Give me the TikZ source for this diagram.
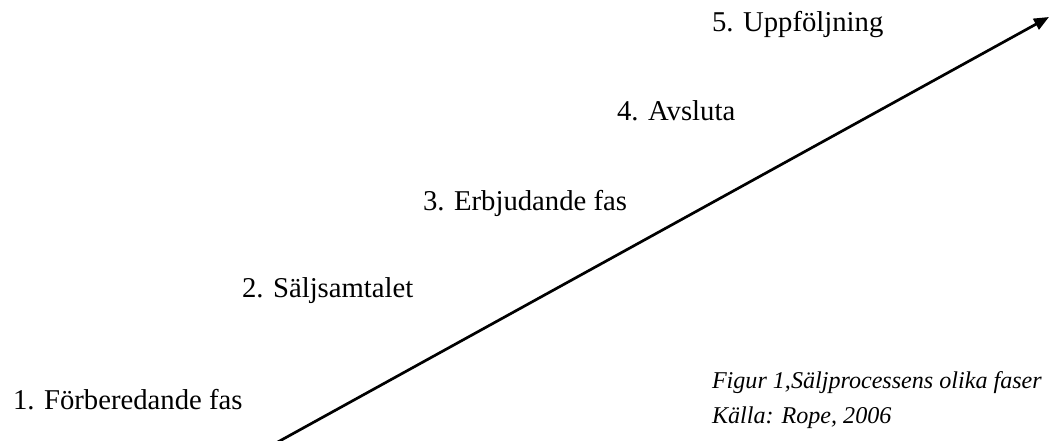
\documentclass[tikz,border=0pt]{standalone}
\usepackage{fontspec}
\setmainfont{Liberation Serif}
\usetikzlibrary{arrows.meta}
\tikzset{
  every node/.style={inner sep=0pt, outer sep=0pt},
  phase/.style={anchor=base west, font=\fontsize{28.7}{34}\selectfont},
  source/.style={anchor=base west, font=\fontsize{24.1}{35}\selectfont\itshape},
  arr/.style={-{Triangle[length=15pt, width=12pt]}, line width=2.7pt, black},
}
\begin{document}
\begin{tikzpicture}[x=1pt, y=-1pt]
\useasboundingbox (0,0) rectangle (1050,441);

% --- phases ---
\node[phase] (fas1) at (13,409) {1. Förberedande fas};
\node[phase] (fas2) at (242,297) {2. Säljsamtalet};
\node[phase] (fas3) at (423,210) {3. Erbjudande fas};
\node[phase] (fas4) at (617,121) {4. Avsluta};
\node[phase] (fas5) at (712,32) {5. Uppföljning};

% --- source ---
\node[source] (figur) at (712,388) {Figur 1,Säljprocessens olika faser};
\node[source] (kalla) at (712,423) {Källa: Rope, 2006};

% --- arrow ---
\coordinate (start) at (276,443);
\coordinate (tip) at (1049,17);
\draw[arr] (start) -- (tip);

\end{tikzpicture}
\end{document}
